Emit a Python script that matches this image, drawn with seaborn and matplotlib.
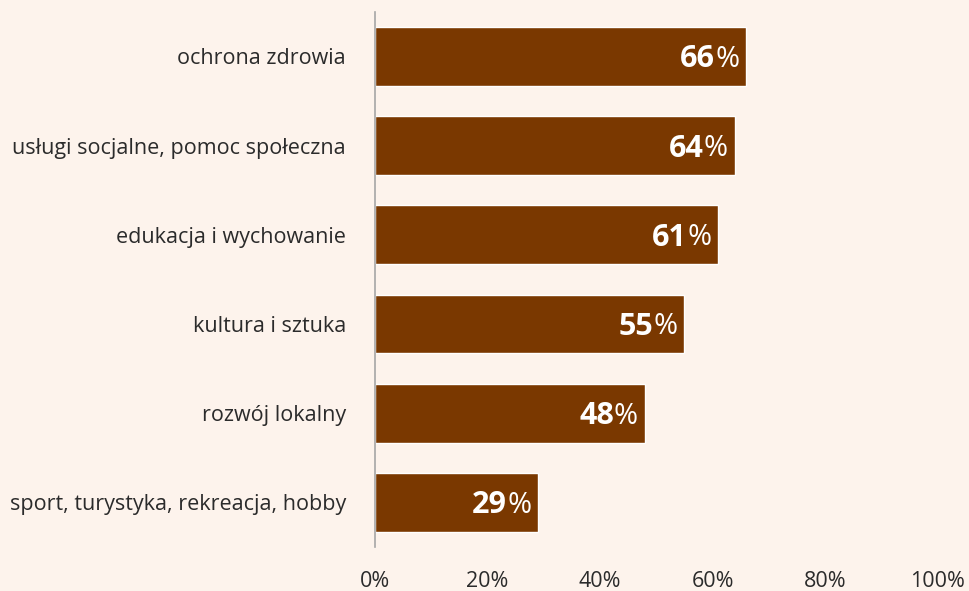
import matplotlib
matplotlib.use("Agg")
import matplotlib.pyplot as plt
import seaborn as sns
import pandas as pd

categories = [
    "ochrona zdrowia",
    "usługi socjalne, pomoc społeczna",
    "edukacja i wychowanie",
    "kultura i sztuka",
    "rozwój lokalny",
    "sport, turystyka, rekreacja, hobby",
]
values = [66, 64, 61, 55, 48, 29]
x_ticks = [0, 20, 40, 60, 80, 100]
x_tick_labels = ["0%", "20%", "40%", "60%", "80%", "100%"]

BG = "#FDF3EC"
BAR = "#7A3800"
TEXT = "#2B2B2B"

sns.set_theme(style="white")
plt.rcParams["font.family"] = ["Open Sans", "DejaVu Sans"]

df = pd.DataFrame({"kategoria": categories, "udzial": values})

fig = plt.figure(figsize=(9.70, 5.91), dpi=100, facecolor=BG)
ax = fig.add_axes([0.3866, 0.0745, 0.58, 0.9055])
ax.set_facecolor(BG)

sns.barplot(data=df, x="udzial", y="kategoria", orient="h", color=BAR,
            saturation=1, width=0.66, ax=ax)

ax.set_xlim(0, 100)
ax.set_ylim(len(categories) - 0.5, -0.5)
ax.set_xticks(x_ticks)
ax.set_xticklabels(x_tick_labels, fontsize=15.5, color=TEXT)
ax.tick_params(axis="x", length=0, pad=17)
ax.tick_params(axis="y", length=0, pad=21, labelsize=15.5, labelcolor=TEXT)
ax.set_xlabel("")
ax.set_ylabel("")
for side in ["top", "right", "bottom"]:
    ax.spines[side].set_visible(False)
ax.spines["left"].set_color("#A6A6A6")
ax.spines["left"].set_linewidth(1.2)

# value labels: bold number followed by a regular-weight percent sign
for i, v in enumerate(values):
    pct = ax.annotate("%", xy=(v, i), xytext=(-7, -3), textcoords="offset pixels",
                      ha="right", va="center", color="white", fontsize=21)
    ax.annotate(f"{v}", xy=(0, 0.5), xycoords=pct, ha="right", va="center",
                color="white", fontsize=22, fontweight="bold")

fig.savefig("out.png", dpi=100, facecolor=BG)
